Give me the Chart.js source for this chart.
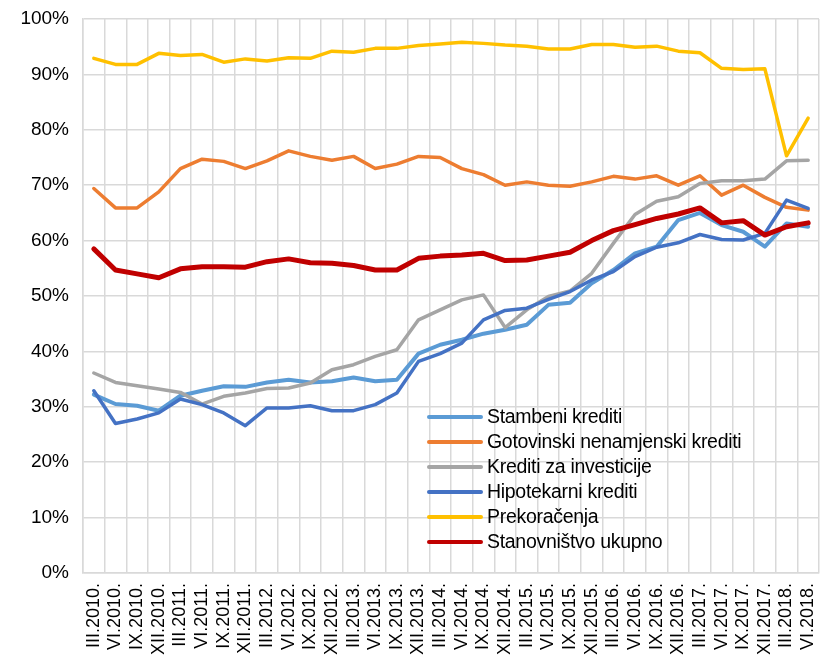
<!DOCTYPE html>
<html>
<head>
<meta charset="utf-8">
<script src="https://cdn.jsdelivr.net/npm/chart.js@4"></script>
<style>
  html, body { margin: 0; padding: 0; background: #fff; }
  #wrap { position: relative; width: 827px; height: 661px; }
  #legend { position: absolute; left: 427px; top: 404px; font-family: "Liberation Sans", Arial, sans-serif; font-size: 19.5px; color: #000; letter-spacing: -0.3px; }
  .row { height: 25px; line-height: 25px; white-space: nowrap; display: flex; align-items: center; }
  .sw { display: inline-block; width: 56px; height: 4px; border-radius: 2px; margin-right: 4px; }
</style>
</head>
<body>
<div id="wrap">
  <canvas id="c" width="827" height="661"></canvas>
  <div id="legend"></div>
</div>
<script>
const categories = ['III.2010.','VI.2010.','IX.2010.','XII.2010.',
  'III.2011.','VI.2011.','IX.2011.','XII.2011.',
  'III.2012.','VI.2012.','IX.2012.','XII.2012.',
  'III.2013.','VI.2013.','IX.2013.','XII.2013.',
  'III.2014.','VI.2014.','IX.2014.','XII.2014.',
  'III.2015.','VI.2015.','IX.2015.','XII.2015.',
  'III.2016.','VI.2016.','IX.2016.','XII.2016.',
  'III.2017.','VI.2017.','IX.2017.','XII.2017.',
  'III.2018.','VI.2018.'];

const seriesNames = ['Stambeni krediti','Gotovinski nenamjenski krediti','Krediti za investicije','Hipotekarni krediti','Prekoračenja','Stanovništvo ukupno'];

const stambeni = [32.2,30.5,30.2,29.3,32.0,32.9,33.7,33.6,34.4,34.9,34.4,34.6,35.3,34.6,34.9,39.6,41.2,42.1,43.2,43.9,44.8,48.4,48.8,52.3,54.7,57.7,58.9,63.7,65.0,62.8,61.6,58.9,63.1,62.5];
const gotovinski = [69.4,65.9,65.9,68.8,73.0,74.7,74.3,73.0,74.4,76.2,75.2,74.5,75.2,73.0,73.8,75.2,75.0,73.0,71.9,70.0,70.6,70.0,69.8,70.6,71.6,71.1,71.7,70.0,71.7,68.2,70.0,67.8,66.0,65.5];
const investicije = [36.1,34.4,33.8,33.2,32.6,30.5,31.9,32.5,33.3,33.4,34.3,36.7,37.6,39.1,40.3,45.7,47.5,49.3,50.2,44.3,47.5,49.9,50.9,54.1,59.5,64.7,67.1,67.9,70.3,70.8,70.8,71.1,74.4,74.5];
const hipotekarni = [32.9,27.0,27.8,28.9,31.4,30.4,28.9,26.6,29.8,29.8,30.2,29.3,29.3,30.4,32.5,38.2,39.6,41.5,45.7,47.4,47.8,49.4,50.8,52.9,54.4,57.1,58.8,59.6,61.1,60.2,60.1,61.3,67.3,65.8];
const prekoracenja = [92.9,91.8,91.8,93.8,93.4,93.6,92.2,92.8,92.4,93.0,92.9,94.2,94.0,94.7,94.7,95.2,95.5,95.8,95.6,95.3,95.1,94.6,94.6,95.4,95.4,94.9,95.1,94.2,93.9,91.1,90.9,91.0,75.3,82.1];
const ukupno = [58.5,54.7,54.0,53.3,54.9,55.3,55.3,55.2,56.2,56.7,56.0,55.9,55.5,54.7,54.7,56.8,57.2,57.4,57.7,56.4,56.5,57.2,57.9,60.0,61.8,62.9,64.0,64.8,65.9,63.2,63.6,61.0,62.5,63.2];

const colors = ['#5b9bd5','#ed7d31','#a5a5a5','#4472c4','#ffc000','#c00000'];
const widths = [4, 3.5, 3.5, 3.5, 3.5, 5];
const allSeries = [stambeni, gotovinski, investicije, hipotekarni, prekoracenja, ukupno];

const FONT = '"Liberation Sans", Arial, sans-serif';
const GRID = '#d9d9d9';

const datasets = allSeries.map((d, i) => ({
  label: seriesNames[i],
  data: d,
  borderColor: colors[i],
  backgroundColor: colors[i],
  borderWidth: widths[i],
  pointRadius: 0,
  tension: 0,
  fill: false,
  borderJoinStyle: 'round',
  borderCapStyle: 'round',
  order: allSeries.length - i
}));

function zeroPad(s) { s.paddingLeft = 0; s.paddingRight = 0; s.paddingTop = 0; s.paddingBottom = 0; }

const chart = new Chart(document.getElementById('c'), {
  type: 'line',
  data: { labels: categories, datasets },
  options: {
    responsive: false,
    animation: false,
    devicePixelRatio: 1,
    layout: { padding: { top: 19, right: 8, left: 0, bottom: 0 } },
    plugins: { legend: { display: false }, tooltip: { enabled: false } },
    scales: {
      x: {
        offset: true,
        grid: { offset: true, color: GRID, lineWidth: 1.5, drawTicks: false },
        border: { color: GRID, width: 1.5 },
        ticks: {
          autoSkip: false, maxRotation: 90, minRotation: 90, padding: 10,
          color: '#000', font: { family: FONT, size: 18 }
        },
        afterFit: s => { s.height = 88; zeroPad(s); }
      },
      y: {
        min: 0, max: 100,
        grid: { color: GRID, lineWidth: 1.5, drawTicks: false },
        border: { color: GRID, width: 1.5 },
        ticks: {
          stepSize: 10, padding: 14, color: '#000',
          font: { family: FONT, size: 19 },
          callback: v => v + '%'
        },
        afterFit: s => { s.width = 83; zeroPad(s); }
      }
    }
  }
});

const leg = document.getElementById('legend');
chart.data.datasets.forEach(ds => {
  const row = document.createElement('div');
  row.className = 'row';
  const sw = document.createElement('span');
  sw.className = 'sw';
  sw.style.background = ds.borderColor;
  const tx = document.createElement('span');
  tx.textContent = ds.label;
  row.appendChild(sw);
  row.appendChild(tx);
  leg.appendChild(row);
});
</script>
</body>
</html>
